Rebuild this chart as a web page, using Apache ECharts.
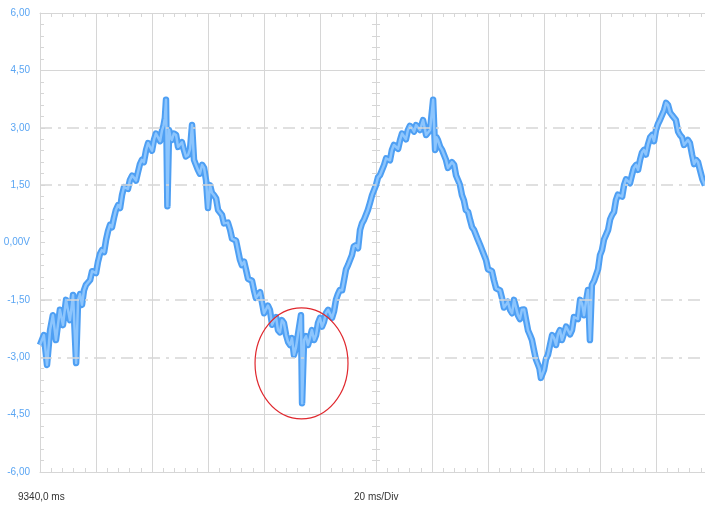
<!DOCTYPE html>
<html><head><meta charset="utf-8">
<script src="https://cdn.jsdelivr.net/npm/echarts@6/dist/echarts.min.js"></script>
<style>html,body{margin:0;padding:0;background:#fff}#c{width:705px;height:506px}</style>
</head><body><div id="c"></div>
<script>
// [time since trace start (ms), measured voltage (V)]
const trace = [
[0,-2.68],[1.4,-2.42],[2.5,-3.20],[3.6,-2.29],[4.6,-1.90],[5.7,-2.55],[7.1,-1.76],[8.2,-2.16],[9.3,-1.50],[10.7,-2.03],
[11.8,-1.37],[12.9,-3.15],[13.6,-1.50],[14.3,-1.35],[15.0,-1.63],[15.7,-1.25],[16.4,-1.11],[17.1,-1.10],[17.9,-0.98],[18.6,-0.75],
[19.3,-0.72],[20.0,-0.80],[20.7,-0.51],[21.4,-0.30],[22.1,-0.20],[22.9,-0.25],[23.6,0.07],[24.3,0.30],[25.0,0.46],[25.7,0.40],
[26.4,0.64],[27.1,0.85],[27.9,0.98],[28.6,0.90],[29.3,1.24],[30.0,1.45],[30.7,1.50],[31.4,1.40],[32.1,1.63],[32.9,1.75],
[33.6,1.69],[34.3,1.62],[35.0,1.84],[35.7,2.05],[36.4,2.16],[37.1,2.10],[37.9,2.42],[38.6,2.60],[39.3,2.55],[40.0,2.40],
[40.7,2.68],[41.4,2.85],[42.1,2.81],[42.9,2.65],[43.6,2.94],[44.1,3.05],[44.6,3.25],[45.0,3.73],[45.5,0.95],[46.1,2.94],
[46.6,2.75],[47.1,2.68],[47.8,2.85],[48.6,2.81],[49.3,2.50],[50.0,2.55],[50.7,2.62],[51.4,2.42],[52.1,2.25],[52.9,2.29],
[53.6,2.45],[54.3,3.07],[55.0,2.16],[55.7,2.20],[56.4,1.90],[57.1,1.80],[57.9,2.03],[58.6,1.95],[59.3,1.63],[60.0,0.90],
[60.7,1.50],[61.4,1.30],[62.1,1.24],[62.9,1.15],[63.6,0.85],[64.3,0.90],[65.0,0.72],[65.7,0.50],[66.4,0.46],[67.1,0.52],
[67.9,0.33],[68.6,0.10],[69.3,0.07],[70.0,0.05],[70.7,-0.20],[71.4,-0.45],[72.1,-0.59],[72.9,-0.50],[73.6,-0.72],[74.3,-0.95],
[75.0,-0.98],[75.7,-1.00],[76.4,-1.24],[77.1,-1.45],[77.9,-1.37],[78.6,-1.30],[79.3,-1.57],[80.0,-1.85],[80.7,-1.90],[81.4,-1.65],
[82.1,-1.76],[82.9,-2.15],[83.6,-2.03],[84.3,-1.95],[85.0,-2.29],[85.7,-2.35],[86.4,-2.03],[87.1,-2.10],[87.9,-2.42],[88.6,-2.60],
[89.3,-2.68],[90.0,-2.50],[90.7,-2.94],[91.4,-2.75],[92.1,-2.42],[93.2,-1.90],[93.6,-4.20],[94.3,-2.55],[95.0,-2.45],[95.7,-2.68],
[96.4,-2.50],[97.1,-2.29],[97.9,-2.55],[98.6,-2.42],[99.3,-2.10],[100.0,-1.97],[100.7,-2.20],[101.4,-2.08],[102.1,-1.85],[102.9,-1.76],
[103.6,-1.80],[104.3,-1.97],[105.0,-1.80],[105.7,-1.50],[106.4,-1.35],[107.1,-1.24],[107.9,-1.25],[108.6,-0.98],[109.3,-0.70],[110.0,-0.59],
[110.7,-0.60],[111.4,-0.33],[112.1,-0.10],[112.9,-0.07],[113.6,-0.15],[114.3,0.33],[115.0,0.50],[115.7,0.59],[116.4,0.55],[117.1,0.85],
[117.9,1.05],[118.6,1.24],[119.3,1.20],[120.0,1.50],[120.7,1.70],[121.4,1.76],[122.1,1.75],[122.9,2.03],[123.6,2.20],[124.3,2.16],
[125.0,2.15],[125.7,2.42],[126.4,2.55],[127.1,2.55],[127.9,2.45],[128.6,2.68],[129.3,2.85],[130.0,2.81],[130.7,2.70],[131.4,2.94],
[132.1,3.05],[132.9,2.99],[133.6,2.90],[134.3,3.07],[135.0,3.10],[135.7,2.94],[136.8,3.20],[137.9,2.81],[139.3,2.94],[140.4,3.73],
[141.1,2.42],[141.6,2.75],[142.1,2.68],[142.9,2.50],[143.6,2.42],[144.3,2.45],[145.0,2.16],[145.7,1.95],[146.4,1.90],[147.1,2.10],
[147.9,2.03],[148.6,1.75],[149.3,1.63],[150.0,1.50],[150.7,1.24],[151.4,1.10],[152.1,0.85],[152.9,0.80],[153.6,0.59],[154.3,0.40],
[155.0,0.33],[155.7,0.30],[156.4,0.07],[157.1,-0.05],[157.9,-0.20],[158.6,-0.25],[159.3,-0.46],[160.0,-0.70],[160.7,-0.72],[161.4,-0.75],
[162.1,-0.98],[162.9,-1.20],[163.6,-1.24],[164.3,-1.25],[165.0,-1.45],[165.7,-1.70],[166.4,-1.63],[167.1,-1.55],[167.9,-1.76],[168.6,-1.85],
[169.3,-1.50],[170.0,-1.55],[170.7,-1.90],[171.4,-2.00],[172.1,-1.76],[172.9,-1.75],[173.6,-2.03],[174.3,-2.30],[175.0,-2.42],[175.7,-2.55],
[176.4,-2.81],[177.1,-3.05],[177.9,-3.20],[178.4,-3.30],[178.9,-3.54],[180.0,-3.33],[180.7,-3.05],[181.4,-2.94],[182.1,-2.70],[182.9,-2.42],
[183.6,-2.50],[184.3,-2.68],[185.0,-2.40],[185.7,-2.29],[186.4,-2.55],[187.1,-2.55],[187.9,-2.20],[188.6,-2.16],[189.3,-2.40],[190.0,-2.29],
[190.7,-1.95],[191.4,-1.90],[192.1,-2.00],[192.9,-1.50],[193.6,-1.60],[194.3,-1.90],[195.0,-1.55],[195.7,-1.24],[196.4,-2.55],[197.1,-1.11],
[197.9,-1.00],[198.6,-0.85],[199.3,-0.70],[200.0,-0.33],[200.7,-0.20],[201.4,0.07],[202.1,0.10],[202.9,0.33],[203.6,0.60],[204.3,0.72],
[205.0,0.80],[205.7,1.11],[206.4,1.25],[207.1,1.24],[207.9,1.20],[208.6,1.50],[209.3,1.65],[210.0,1.63],[210.7,1.55],[211.4,1.76],
[212.1,1.95],[212.9,2.03],[213.6,1.90],[214.3,2.16],[215.0,2.35],[215.7,2.42],[216.4,2.30],[217.1,2.55],[217.9,2.75],[218.6,2.81],
[219.3,2.65],[220.0,2.94],[220.7,3.10],[221.4,3.20],[222.1,3.15],[222.9,3.46],[223.6,3.65],[224.3,3.59],[225.0,3.40],[225.7,3.33],
[226.4,3.35],[227.1,3.20],[227.9,2.90],[228.6,2.81],[229.3,2.75],[230.0,2.55],[230.7,2.50],[231.4,2.68],[232.1,2.60],[232.9,2.29],
[233.6,2.05],[234.3,2.16],[235.0,2.10],[235.7,1.90],[236.6,1.65],[237.5,1.50]
];

const yTickLabels = {'-6':'-6,00','-4.5':'-4,50','-3':'-3,00','-1.5':'-1,50','0':'0,00V','1.5':'1,50','3':'3,00','4.5':'4,50','6':'6,00'};
const solidLevels = [4.5, -4.5];
const dashedLevels = [3, 1.5, -1.5, -3];
const startLabel = '9340,0 ms';
const scaleLabel = '20 ms/Div';
const circleCenter = [93.4, -3.16];
const circleRadius = [16.6, 1.45];

const gridColor = '#d6d6d6';
const font = '10px Arial, "Liberation Sans", sans-serif';

function tickAxis(extra) {
  return Object.assign({
    axisLine: {show: true, onZero: false, lineStyle: {color: gridColor, width: 1}},
    axisTick: {show: true, inside: true, length: 5, lineStyle: {color: gridColor}},
    minorTick: {show: true, splitNumber: 5, length: 4, lineStyle: {color: gridColor}},
    axisLabel: {show: false},
    splitLine: {show: false}
  }, extra);
}

const chart = echarts.init(document.getElementById('c'), null, {renderer: 'canvas'});
chart.setOption({
  animation: false,
  backgroundColor: '#ffffff',
  grid: {left: 40, top: 13, right: 0, bottom: 34, containLabel: false},
  xAxis: [
    tickAxis({type: 'value', position: 'bottom', min: 0, max: 237.5, interval: 20,
      splitLine: {show: true, lineStyle: {color: gridColor, width: 1}}}),
    tickAxis({type: 'value', position: 'top', min: 0, max: 237.5, interval: 20})
  ],
  yAxis: [
    tickAxis({type: 'value', position: 'left', min: -6, max: 6, interval: 1.5,
      axisLabel: {show: true, color: '#5aa5f3', fontSize: 10, margin: 10,
        fontFamily: 'Arial, "Liberation Sans", sans-serif',
        formatter: v => yTickLabels[String(v)] || ''}}),
    tickAxis({type: 'value', position: 'left', offset: -336, min: -6, max: 6, interval: 1.5,
      axisTick: {show: true, inside: true, length: 4, lineStyle: {color: gridColor}}}),
    tickAxis({type: 'value', position: 'left', offset: -336, min: -6, max: 6, interval: 1.5,
      axisTick: {show: true, inside: false, length: 4, lineStyle: {color: gridColor}}})
  ],
  series: [
    {
      type: 'line', xAxisIndex: 0, yAxisIndex: 0, data: [], silent: true,
      markLine: {
        silent: true, symbol: 'none', label: {show: false},
        data: solidLevels.map(v => ({yAxis: v, lineStyle: {color: gridColor, width: 1, type: 'solid'}}))
          .concat(dashedLevels.map(v => ({yAxis: v, lineStyle: {color: gridColor, width: 1.5, type: [12, 6, 3, 6]}})))
      }
    },
    {
      type: 'line', xAxisIndex: 0, yAxisIndex: 0, data: trace, showSymbol: false,
      lineStyle: {color: '#4e9ff3', width: 6.5, join: 'round'}, z: 3
    },
    {
      type: 'line', xAxisIndex: 0, yAxisIndex: 0, data: trace, showSymbol: false,
      lineStyle: {color: '#8cc5fd', width: 2.5, join: 'round'}, z: 4
    }
  ]
});

const c0 = chart.convertToPixel({xAxisIndex: 0, yAxisIndex: 0}, circleCenter);
const c1 = chart.convertToPixel({xAxisIndex: 0, yAxisIndex: 0}, [circleCenter[0] + circleRadius[0], circleCenter[1] + circleRadius[1]]);
chart.setOption({
  graphic: [
    {type: 'text', left: 18, top: 492, style: {text: startLabel, fill: '#333', font: font}},
    {type: 'text', left: 354, top: 492, style: {text: scaleLabel, fill: '#333', font: font}},
    {type: 'ellipse', shape: {cx: c0[0], cy: c0[1], rx: Math.abs(c1[0] - c0[0]), ry: Math.abs(c1[1] - c0[1])},
      style: {fill: 'none', stroke: '#e0282e', lineWidth: 1.2}, z: 10}
  ]
});
</script></body></html>
